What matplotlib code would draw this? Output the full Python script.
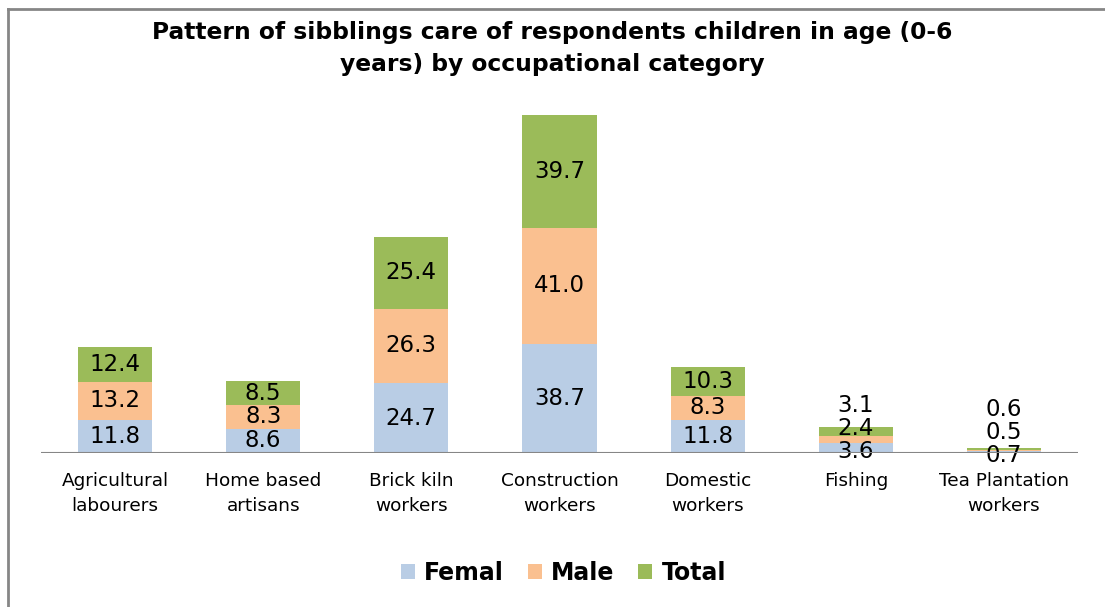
import matplotlib
matplotlib.use("Agg")
import matplotlib.pyplot as plt
from matplotlib.lines import Line2D
import numpy as np

categories = ["Agricultural\nlabourers", "Home based\nartisans", "Brick kiln\nworkers",
              "Construction\nworkers", "Domestic\nworkers", "Fishing", "Tea Plantation\nworkers"]
femal = [11.8, 8.6, 24.7, 38.7, 11.8, 3.6, 0.7]
male = [13.2, 8.3, 26.3, 41.0, 8.3, 2.4, 0.5]
total = [12.4, 8.5, 25.4, 39.7, 10.3, 3.1, 0.6]
series_names = ["Femal", "Male", "Total"]
colors = ["#B9CDE5", "#FAC090", "#9BBB59"]

plt.rcParams['font.family'] = ['DejaVu Sans']

fig = plt.figure(figsize=(11.05, 6.07), dpi=100)
ax = fig.add_axes([41/1105, 1 - 453/607, (1078 - 41)/1105, (453 - 57)/607])

x = np.arange(len(categories))
data = [femal, male, total]
bottom = np.zeros(len(categories))
for vals, name, c in zip(data, series_names, colors):
    ax.bar(x, vals, 0.5, bottom=bottom, color=c, label=name, zorder=2)
    bottom += np.array(vals)

totals = bottom
for j in range(len(categories)):
    b = 0.0
    for i, vals in enumerate(data):
        v = vals[j]
        if totals[j] >= 10:
            ax.text(x[j], b + v / 2, f"{v:.1f}", ha="center", va="center", fontsize=16.5, zorder=3)
        else:
            ax.annotate(f"{v:.1f}", xy=(x[j], 0), xytext=(0, 16.5 * i + (1 if j == 5 else -1.5)),
                        textcoords="offset points", ha="center", va="center", fontsize=16.5, zorder=3)
        b += v

ax.set_xlim(-0.5, len(categories) - 0.5)
ax.set_ylim(0, 140)
ax.axhline(0, color="#868686", lw=1.5, zorder=4)
for s in ax.spines.values():
    s.set_visible(False)
ax.set_yticks([])
ax.set_xticks(x)
ax.set_xticklabels(categories, fontsize=13.3, linespacing=1.45)
ax.tick_params(axis="x", length=0, pad=14)

fig.text(0.5, 1 - 48/607, "Pattern of sibblings care of respondents children in age (0-6\nyears) by occupational category",
         ha="center", va="center", fontsize=16.8, fontweight="bold", linespacing=1.5)

leg = fig.legend(loc="center", bbox_to_anchor=(0.5 + 11/1105, 1 - 573/607), ncol=3, frameon=False,
                 prop={"size": 17, "weight": "bold"}, handlelength=0.6, handleheight=0.6,
                 columnspacing=1.0, handletextpad=0.4)

fig.add_artist(Line2D([7.5/1105, 7.5/1105], [0, 1 - 8.5/607], color="#868686", lw=2, transform=fig.transFigure))
fig.add_artist(Line2D([7.5/1105, 1], [1 - 8.5/607, 1 - 8.5/607], color="#868686", lw=2, transform=fig.transFigure))

fig.savefig("out.png", dpi=100)
